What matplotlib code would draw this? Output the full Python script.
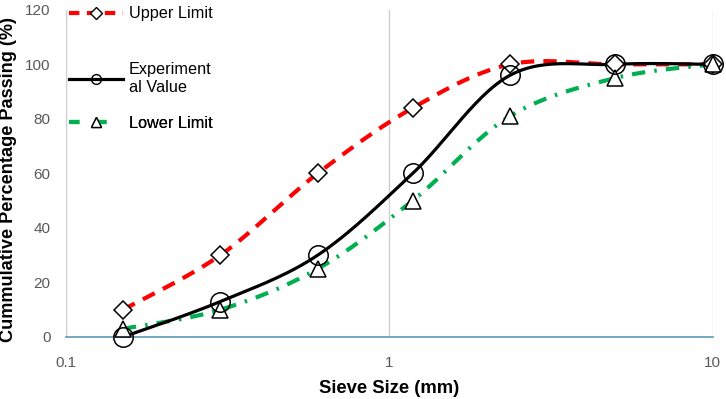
import numpy as np
import matplotlib.pyplot as plt
from matplotlib.lines import Line2D

plt.rcParams['font.family'] = ['Liberation Sans', 'DejaVu Sans']

sieve = [0.15, 0.3, 0.6, 1.18, 2.36, 5, 10]
upper = [10, 30, 60, 84, 100, 100, 100]
experiment = [0, 13, 30, 60, 96, 100, 100]
lower = [3, 10, 25, 50, 81, 95, 100]

labels = ['Upper Limit', 'Experiment\nal Value', 'Lower Limit']


def smooth(xs, ys, n=30):
    # excel-like smoothed line: catmull-rom in display units (log x, linear y)
    u = np.log10(xs) * 323.0
    v = np.asarray(ys, float) * 2.725
    p = np.column_stack([u, v])
    p = np.vstack([p[0], p, p[-1]])
    out = []
    for i in range(1, len(p) - 2):
        p0, p1, p2, p3 = p[i - 1], p[i], p[i + 1], p[i + 2]
        c1 = p1 + (p2 - p0) / 6.0
        c2 = p2 - (p3 - p1) / 6.0
        t = np.linspace(0, 1, n)[:, None]
        b = ((1 - t) ** 3) * p1 + 3 * ((1 - t) ** 2) * t * c1 + 3 * (1 - t) * t ** 2 * c2 + t ** 3 * p2
        out.append(b if i == 1 else b[1:])
    out = np.vstack(out)
    return 10 ** (out[:, 0] / 323.0), out[:, 1] / 2.725


fig = plt.figure(figsize=(7.26, 3.99), dpi=100)
ax = fig.add_axes([0.0909, 0.1554, 0.891, 0.82])

red = '#ff0000'
green = '#00b050'

sx, sy = smooth(sieve, upper)
ax.plot(sx, sy, color=red, lw=3, dashes=(3.2, 2.2), zorder=3)
sx, sy = smooth(sieve, lower)
ax.plot(sx, sy, color=green, lw=3, dashes=(3.2, 2.2, 0.6, 2.2), zorder=3)
sx, sy = smooth(sieve, experiment)
ax.plot(sx, sy, color='black', lw=2.3, zorder=4)

ax.plot(sieve, upper, ls='none', marker='D', ms=9.5, mfc='white', mec='black', mew=1.1, zorder=5, clip_on=False)
ax.plot(sieve, lower, ls='none', marker='^', ms=11, mfc='white', mec='black', mew=1.1, zorder=5, clip_on=False)
ax.plot(sieve, experiment, ls='none', marker='o', ms=14, mfc='none', mec='black', mew=1.1, zorder=6, clip_on=False)

ax.set_xscale('log')
ax.set_xlim(0.1, 10)
ax.set_ylim(0, 120)
ax.set_yticks(range(0, 121, 20))
ax.set_xticks([0.1, 1, 10])
ax.set_xticklabels(['0.1', '1', '10'])
ax.minorticks_off()
ax.tick_params(length=0, labelsize=11, colors='#595959')
ax.tick_params(axis='y', pad=11)
ax.tick_params(axis='x', pad=14)

ax.grid(axis='x', color='#d0d0d0', lw=1)
ax.set_axisbelow(True)
for s in ['top', 'right']:
    ax.spines[s].set_visible(False)
ax.spines['left'].set_color('#d0d0d0')
ax.spines['bottom'].set_color('#5b9bb5')
ax.spines['bottom'].set_linewidth(1.2)

ax.set_xlabel('Sieve Size (mm)', fontsize=13.3, fontweight='bold', labelpad=7)
ax.set_ylabel('Cummulative Percentage Passing (%)', fontsize=13.1, fontweight='bold')
ax.yaxis.set_label_coords(-0.0757, 0.48)

handles = [
    Line2D([], [], color=red, lw=3, dashes=(2.5, 1.8), marker='D', ms=6, mfc='white', mec='black'),
    Line2D([], [], color='black', lw=2.3, marker='o', ms=7, mfc='none', mec='black'),
    Line2D([], [], color=green, lw=3, dashes=(2.5, 4.0), marker='^', ms=7, mfc='white', mec='black'),
]
ypos = [0.988, 0.79, 0.654]
for h, lab, y in zip(handles, labels, ypos):
    leg = ax.legend([h], [lab], loc='center left', bbox_to_anchor=(0.005, y), frameon=False,
                    fontsize=11.7, handlelength=3.3, handletextpad=0.35, borderpad=0, borderaxespad=0)
    ax.add_artist(leg)

fig.savefig('out.png', dpi=100)
